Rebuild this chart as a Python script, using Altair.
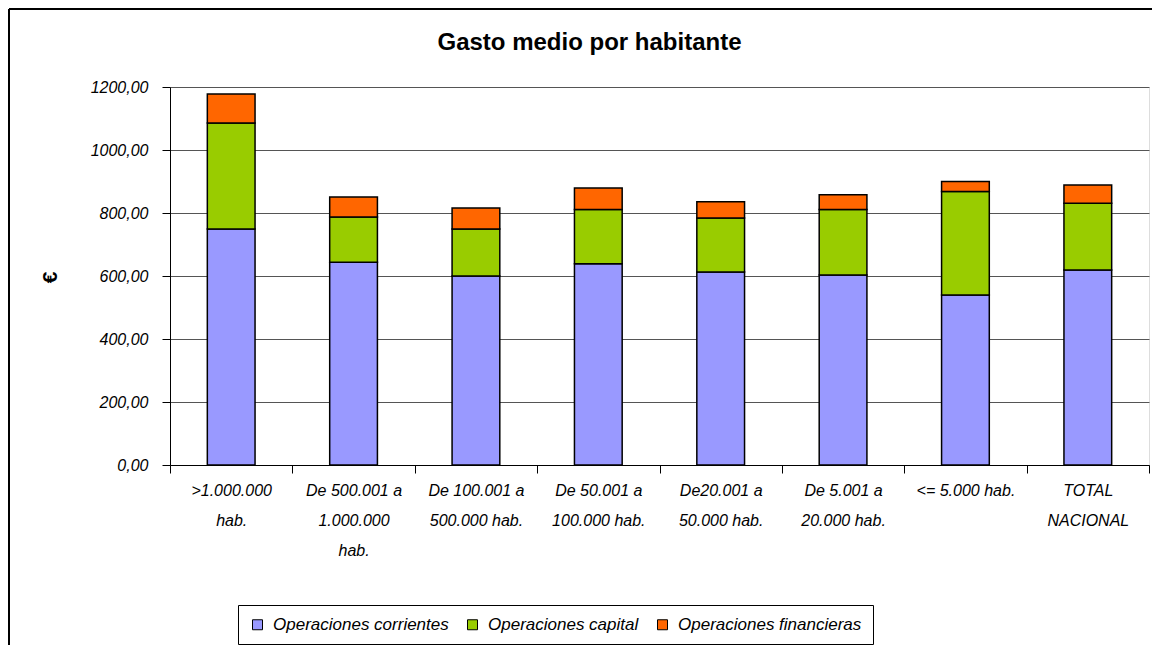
import altair as alt
import pandas as pd

categories = [">1.000.000|hab.", "De 500.001 a|1.000.000|hab.", "De 100.001 a|500.000 hab.",
              "De 50.001 a|100.000 hab.", "De20.001 a|50.000 hab.", "De 5.001 a|20.000 hab.",
              "<= 5.000 hab.", "TOTAL|NACIONAL"]
series_names = ["Operaciones corrientes", "Operaciones capital", "Operaciones financieras"]
corrientes = [749, 644, 600, 639, 613, 603, 540, 619]
capital = [337, 143, 149, 172, 171, 208, 328, 212]
financieras = [92, 64, 67, 68, 52, 47, 32, 58]
colors = ["#9999FF", "#99CC00", "#FF6600"]

rows = []
for i, c in enumerate(categories):
    for k, (name, vals) in enumerate(zip(series_names, [corrientes, capital, financieras])):
        rows.append({"cat": c, "serie": name, "valor": vals[i], "idx": k})
df = pd.DataFrame(rows)

FONT = "Liberation Sans"

bars = alt.Chart(df).mark_bar(
    width=alt.RelativeBandSize(0.39), stroke="black", strokeWidth=1.5
).encode(
    x=alt.X("cat:N", sort=categories, title=None,
            scale=alt.Scale(paddingInner=0, paddingOuter=0),
            axis=alt.Axis(labelExpr="split(datum.label, '|')", labelAngle=0,
                          tickBand="extent", tickSize=8, tickColor="black",
                          domainColor="black", labelFont=FONT, labelFontSize=16,
                          labelFontStyle="italic", labelColor="black",
                          labelLineHeight=30, labelPadding=9, labelBaseline="top",
                          labelLimit=200)),
    y=alt.Y("valor:Q", stack="zero", title="€",
            scale=alt.Scale(domain=[0, 1200], nice=False),
            axis=alt.Axis(values=[0, 200, 400, 600, 800, 1000, 1200],
                          labelExpr="replace(format(datum.value, '.2f'), '.', ',')",
                          grid=True, gridColor="#555555", gridWidth=1,
                          tickSize=8, tickColor="black", domainColor="black",
                          labelFont=FONT, labelFontSize=16, labelFontStyle="italic",
                          labelColor="black", labelPadding=14,
                          titleFont=FONT, titleFontSize=21, titleFontWeight="bold",
                          titleColor="black", titleX=-120, titleY=190, titleAngle=270,
                          titleAlign="center", titleBaseline="middle")),
    color=alt.Color("serie:N", sort=series_names,
                    scale=alt.Scale(domain=series_names, range=colors),
                    legend=alt.Legend(title=None, orient="none", direction="horizontal",
                                      legendX=68, legendY=518, fillColor="white",
                                      strokeColor="black", padding=11,
                                      symbolType="square", symbolSize=100,
                                      symbolStrokeColor="black", symbolStrokeWidth=1,
                                      symbolOpacity=1,
                                      labelFont=FONT, labelFontSize=17,
                                      labelFontStyle="italic", labelColor="black",
                                      labelOffset=7, columnPadding=15, labelLimit=300)),
    order=alt.Order("idx:Q", sort="ascending"),
)

frame_top = alt.Chart(df).mark_rule(color="black", strokeWidth=1.5).encode(
    x=alt.value(-161), x2=alt.value(990), y=alt.value(-78))
frame_left = alt.Chart(df).mark_rule(color="black", strokeWidth=1.5).encode(
    x=alt.value(-161), y=alt.value(-78), y2=alt.value(560))

chart = alt.layer(bars, frame_top, frame_left).properties(
    width=979, height=378,
    title=alt.TitleParams("Gasto medio por habitante", font=FONT, fontSize=24,
                          fontWeight="bold", color="black", anchor="middle",
                          frame="group", baseline="middle",
                          dx=-70, offset=-59),
    autosize=alt.AutoSizeParams(type="none"),
    padding={"left": 162, "top": 79, "right": 3, "bottom": 180},
).configure_view(fill="#FFFF99", stroke="#808080").configure(background="white")

chart.save("out.html", embed_options={"renderer": "svg", "actions": False})
